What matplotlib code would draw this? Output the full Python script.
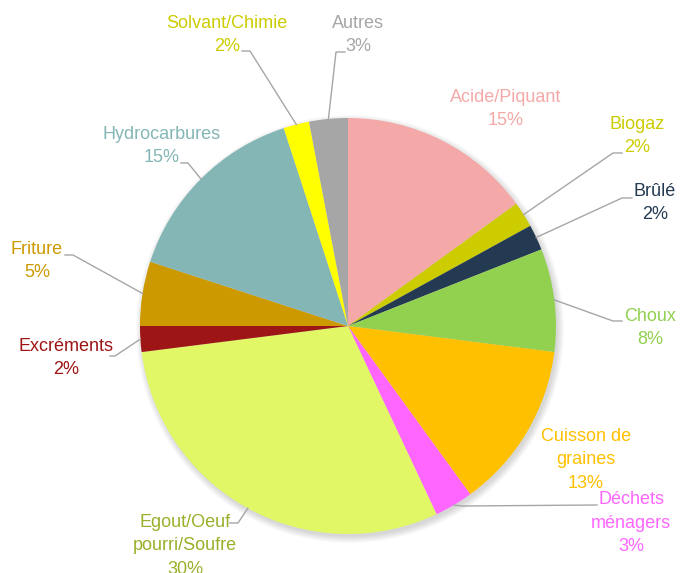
import matplotlib
matplotlib.use("Agg")
import matplotlib.pyplot as plt
import numpy as np
from matplotlib.patches import Circle

# ---- data ----
categories = ["Acide/Piquant", "Biogaz", "Brûlé", "Choux", "Cuisson de\ngraines",
              "Déchets\nménagers", "Egout/Oeuf\npourri/Soufre", "Excréments",
              "Friture", "Hydrocarbures", "Solvant/Chimie", "Autres"]
values = [15, 2, 2, 8, 13, 3, 30, 2, 5, 15, 2, 3]
wedge_colors = ["#F4A9A8", "#CCCC00", "#243A52", "#92D050", "#FFC000", "#FF66FF",
                "#E1F766", "#9E1515", "#CC9900", "#84B6B5", "#FFFF00", "#A6A6A6"]
text_colors = ["#F4A9A8", "#CCCC00", "#243A52", "#92D050", "#FFC000", "#FF66FF",
               "#99B02A", "#9E1515", "#CC9900", "#84B6B5", "#CCCC00", "#A6A6A6"]

# ---- layout (pixel coordinates of the 686x573 canvas, y downwards) ----
W, H = 686, 573
CX, CY, R = 348, 326, 208
label_pos = [(506, 109), (637, 136), (655, 203), (650, 328), (586, 460), (631, 523),
             (185, 546), (66, 358), (37, 261), (162, 146), (227, 35), (358, 35)]
# leader: (text-side start, elbow) or None
leaders = [None, ((622, 153), (613, 153)), ((632, 198), (622, 198)),
           ((622, 321), (613, 321)), None, ((597, 505), (462, 506)),
           ((230, 523), (238, 523)), ((110, 356), (115, 356)),
           ((65, 255), (73, 255)), ((181, 163), (188, 163)),
           ((242, 51), (250, 51)), ((345, 52), (336, 52))]

def P(x, y):
    return x, H - y

plt.rcParams['font.family'] = ['Liberation Sans Narrow', 'Liberation Sans', 'DejaVu Sans']

fig = plt.figure(figsize=(W / 100, H / 100), dpi=100)
ax = fig.add_axes([0, 0, 1, 1])

# soft shadow
for i in range(8):
    ax.add_patch(Circle(P(CX + 2, CY + 3), R + 6 - i * 0.9, color='black',
                        alpha=0.018, lw=0, zorder=0))

wedges, _ = ax.pie(values, colors=wedge_colors, startangle=90, counterclock=False,
                   center=P(CX, CY), radius=R, frame=True,
                   wedgeprops=dict(linewidth=0))
ax.set_xlim(0, W)
ax.set_ylim(0, H)
ax.set_aspect('equal')
ax.axis('off')

total = sum(values)
cum = np.cumsum([0] + values)
for i, (name, v) in enumerate(zip(categories, values)):
    pct = f"{round(100 * v / total)}%"
    tx, ty = label_pos[i]
    ax.text(*P(tx, ty), f"{name}\n{pct}", color=text_colors[i], fontsize=13,
            ha='center', va='center', linespacing=1.47, zorder=5)
    if leaders[i] is not None:
        mid = (cum[i] + cum[i + 1]) / 2 / total * 360.0
        ang = np.deg2rad(90 - mid)
        ax_, ay_ = CX + R * np.cos(ang), CY - R * np.sin(ang)
        (sx, sy), (ex, ey) = leaders[i]
        xs = [sx, ex, ax_]
        ys = [H - sy, H - ey, H - ay_]
        ax.plot(xs, ys, color='#A6A6A6', lw=1.0, zorder=4)

fig.savefig("out.png", dpi=100)
